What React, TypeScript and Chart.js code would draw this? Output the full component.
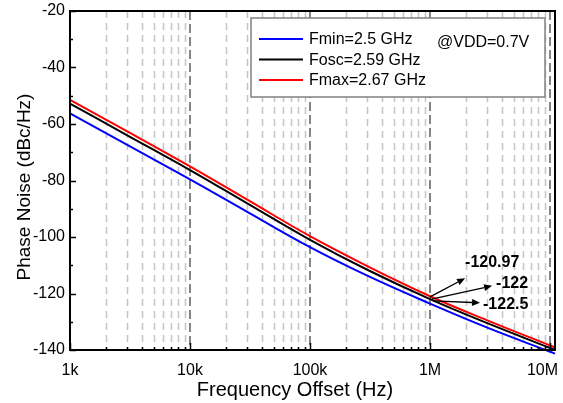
import React, { useEffect, useRef } from "react";
import { Chart, registerables } from "chart.js";

Chart.register(...registerables);

// ---------- data ----------
const freqs = [1e3, 3e3, 1e4, 3e4, 1e5, 3e5, 1e6, 3e6, 1e7, 1.1e7];
const fminValues = [-56.2, -67.4, -79.6, -91.1, -103.6, -113.7, -123.6, -132.1, -140.6, -141.3];
const foscValues = [-52.8, -64.0, -76.3, -88.1, -101.0, -111.6, -122.0, -130.5, -139.3, -140.0];
const fmaxValues = [-51.5, -62.6, -75.0, -86.8, -99.7, -110.3, -120.97, -129.5, -138.4, -139.1];
const seriesLabels = ["Fmin=2.5 GHz", "Fosc=2.59 GHz", "Fmax=2.67 GHz"];
const seriesColors = ["#0000ff", "#000000", "#ff0000"];

const xTickValues = [1e3, 1e4, 1e5, 1e6, 1e7];
const xTickLabels = ["1k", "10k", "100k", "1M", "10M"];
const yMin = -140;
const yMax = -20;
const yStep = 20;

const xTitle = "Frequency Offset (Hz)";
const yTitle = "Phase Noise (dBc/Hz)";
const noteText = "@VDD=0.7V";

// annotations (arrow from curve at 1M to label)
const annLabels = ["-120.97", "-122", "-122.5"];
const annStartX = [1.0e6, 1.03e6, 1.06e6];
const annStartY = [-121.2, -122.0, -122.6];
const annTipX = [1.96e6, 3.29e6, 2.61e6];
const annTipY = [-114.6, -117.3, -123.3];
const annTextX = [1.96e6, 3.55e6, 2.765e6];
const annTextY = [-109.2, -116.6, -124.1];

const FONT = "'Liberation Sans', Arial, Helvetica, sans-serif";

const decoPlugin = {
  id: "deco",
  beforeDatasetsDraw(chart: any) {
    const { ctx, chartArea } = chart;
    const xs = chart.scales.x;
    const { top, bottom } = chartArea;
    ctx.save();
    // minor vertical grid lines
    for (let d = 3; d <= 7; d++) {
      for (let m = 2; m <= 9; m++) {
        const v = m * Math.pow(10, d);
        if (v > xs.max) continue;
        const px = Math.round(xs.getPixelForValue(v)) + 0.5;
        ctx.strokeStyle = "#c4c4c4";
        ctx.lineWidth = 1.5;
        ctx.setLineDash([7, 5]);
        ctx.beginPath();
        ctx.moveTo(px, top);
        ctx.lineTo(px, bottom);
        ctx.stroke();
      }
    }
    // decade lines
    for (let i = 1; i < xTickValues.length; i++) {
      const px = Math.round(xs.getPixelForValue(xTickValues[i]));
      ctx.strokeStyle = "#858585";
      ctx.lineWidth = 2;
      ctx.setLineDash([9, 4]);
      ctx.beginPath();
      ctx.moveTo(px, top);
      ctx.lineTo(px, bottom);
      ctx.stroke();
    }
    ctx.restore();
  },
  afterDatasetsDraw(chart: any) {
    const { ctx, chartArea } = chart;
    const xs = chart.scales.x;
    const ys = chart.scales.y;
    const { left, right, top, bottom } = chartArea;
    ctx.save();
    ctx.setLineDash([]);

    // frame
    ctx.strokeStyle = "#000";
    ctx.lineWidth = 2;
    ctx.strokeRect(left, top, right - left, bottom - top);

    // y ticks (inward)
    ctx.lineWidth = 1.5;
    for (let v = yMin; v <= yMax; v += yStep / 2) {
      const py = Math.round(ys.getPixelForValue(v)) + 0.5;
      const len = (v - yMin) % yStep === 0 ? 6 : 3;
      ctx.beginPath();
      ctx.moveTo(left, py);
      ctx.lineTo(left + len, py);
      ctx.stroke();
    }
    // x ticks (inward)
    for (let d = 3; d <= 7; d++) {
      for (let m = 1; m <= 9; m++) {
        const v = m * Math.pow(10, d);
        if (v > xs.max) continue;
        const px = Math.round(xs.getPixelForValue(v)) + 0.5;
        const len = m === 1 ? 7 : 3;
        ctx.beginPath();
        ctx.moveTo(px, bottom);
        ctx.lineTo(px, bottom - len);
        ctx.stroke();
      }
    }

    // x tick labels (kept inside the canvas)
    ctx.fillStyle = "#000";
    ctx.font = `16px ${FONT}`;
    ctx.textBaseline = "middle";
    ctx.textAlign = "center";
    const cw = chart.width;
    xTickValues.forEach((v, i) => {
      const px = xs.getPixelForValue(v);
      const w = ctx.measureText(xTickLabels[i]).width;
      const cx = Math.min(px, cw - 5 - w / 2);
      ctx.fillText(xTickLabels[i], cx, bottom + 21);
    });

    // legend box
    const bx = left + 181;
    const by = top + 7;
    const bw = right - 10 - bx;
    const bh = 79;
    ctx.fillStyle = "#fff";
    ctx.fillRect(bx, by, bw, bh);
    ctx.strokeStyle = "#808080";
    ctx.lineWidth = 1.5;
    ctx.strokeRect(bx, by, bw, bh);
    ctx.font = `16px ${FONT}`;
    ctx.textAlign = "left";
    ctx.textBaseline = "middle";
    const rowY = [by + 21, by + 41.5, by + 62];
    chart.data.datasets.forEach((ds: any, i: number) => {
      ctx.strokeStyle = ds.borderColor;
      ctx.lineWidth = 2;
      ctx.beginPath();
      ctx.moveTo(bx + 8, rowY[i]);
      ctx.lineTo(bx + 52, rowY[i]);
      ctx.stroke();
      ctx.fillStyle = "#000";
      ctx.fillText(ds.label, bx + 58, rowY[i] + 1);
    });
    ctx.fillText(noteText, bx + 186, by + 25);

    // annotations
    ctx.strokeStyle = "#000";
    ctx.fillStyle = "#000";
    for (let i = 0; i < annLabels.length; i++) {
      const x0 = xs.getPixelForValue(annStartX[i]);
      const y0 = ys.getPixelForValue(annStartY[i]);
      const x1 = xs.getPixelForValue(annTipX[i]);
      const y1 = ys.getPixelForValue(annTipY[i]);
      const ang = Math.atan2(y1 - y0, x1 - x0);
      const hl = 8;
      const hw = 3.5;
      const bxh = x1 - hl * Math.cos(ang);
      const byh = y1 - hl * Math.sin(ang);
      ctx.lineWidth = 1.4;
      ctx.beginPath();
      ctx.moveTo(x0, y0);
      ctx.lineTo(bxh, byh);
      ctx.stroke();
      ctx.beginPath();
      ctx.moveTo(x1, y1);
      ctx.lineTo(bxh + hw * Math.sin(ang), byh - hw * Math.cos(ang));
      ctx.lineTo(bxh - hw * Math.sin(ang), byh + hw * Math.cos(ang));
      ctx.closePath();
      ctx.fill();
      ctx.font = `bold 16px ${FONT}`;
      ctx.textAlign = "left";
      ctx.textBaseline = "middle";
      ctx.fillText(annLabels[i], xs.getPixelForValue(annTextX[i]), ys.getPixelForValue(annTextY[i]));
    }

    // axis titles
    ctx.font = `20px ${FONT}`;
    ctx.textAlign = "center";
    ctx.textBaseline = "middle";
    ctx.fillText(xTitle, left + 225, bottom + 40);
    ctx.save();
    ctx.translate(left - 45, top + 176);
    ctx.rotate(-Math.PI / 2);
    ctx.font = `19px ${FONT}`;
    ctx.fillText(yTitle, 0, 0);
    ctx.restore();

    ctx.restore();
  },
};

export default function App() {
  const ref = useRef<HTMLCanvasElement>(null);
  useEffect(() => {
    const values = [fminValues, foscValues, fmaxValues];
    const datasets = values.map((vals, i) => ({
      label: seriesLabels[i],
      data: freqs.map((f, k) => ({ x: f, y: vals[k] })),
      borderColor: seriesColors[i],
      backgroundColor: seriesColors[i],
      borderWidth: 2,
      pointRadius: 0,
      tension: 0.4,
      order: 2 - i,
      clip: false as any,
    }));
    const chart = new Chart(ref.current!, {
      type: "line",
      data: { datasets },
      options: {
        animation: false,
        responsive: false,
        devicePixelRatio: 1,
        layout: { padding: { left: 0, right: 8, top: 11, bottom: 0 }, autoPadding: false },
        plugins: { legend: { display: false }, tooltip: { enabled: false } },
        scales: {
          x: {
            type: "logarithmic",
            min: 1000,
            max: 1.1e7,
            grid: { display: false, drawTicks: false },
            border: { display: false },
            afterBuildTicks: (s: any) => {
              s.ticks = xTickValues.map((v) => ({ value: v, major: true }));
            },
            afterFit: (s: any) => {
              s.height = 53;
              s.paddingLeft = 0;
              s.paddingRight = 0;
            },
            ticks: { display: false, autoSkip: false, maxRotation: 0 },
          },
          y: {
            type: "linear",
            min: yMin,
            max: yMax,
            grid: { display: false, drawTicks: false },
            border: { display: false },
            afterFit: (s: any) => {
              s.width = 70;
              s.paddingTop = 0;
              s.paddingBottom = 0;
            },
            ticks: {
              stepSize: yStep,
              padding: 5,
              color: "#000",
              font: { size: 16, family: FONT },
            },
          },
        },
      },
      plugins: [decoPlugin],
    });
    return () => chart.destroy();
  }, []);
  return (
    <div style={{ position: "absolute", left: 0, top: 0, width: 563, height: 403, background: "#fff" }}>
      <canvas ref={ref} width={563} height={403} style={{ display: "block" }} />
    </div>
  );
}
